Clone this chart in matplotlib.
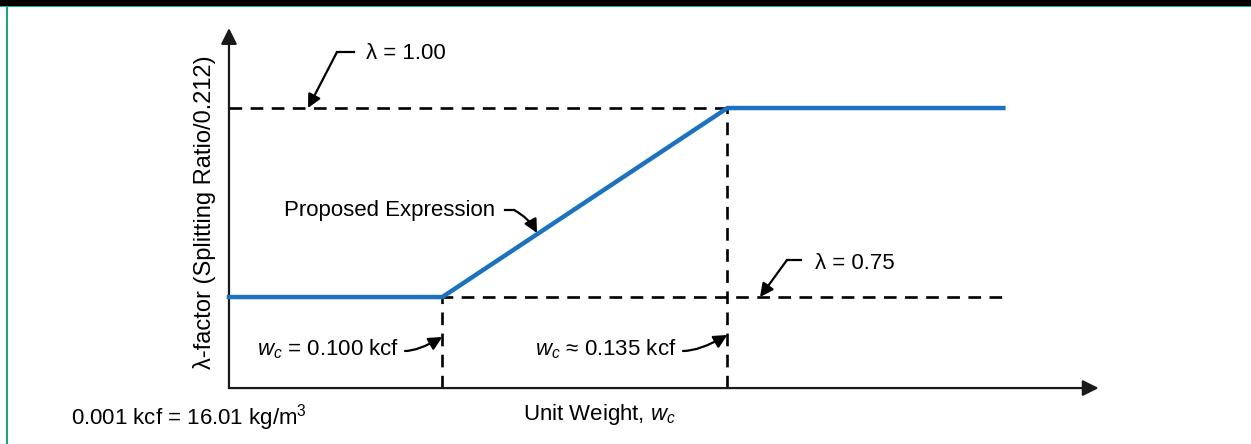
import matplotlib.pyplot as plt
from matplotlib.patches import Rectangle

plt.rcParams['font.family'] = ['Liberation Sans', 'DejaVu Sans']
plt.rcParams['mathtext.fontset'] = 'custom'
plt.rcParams['mathtext.rm'] = 'Liberation Sans'
plt.rcParams['mathtext.it'] = 'Liberation Sans:italic'

# unit weight breakpoints (kcf) and lambda values
wc_points = [0.100, 0.135]
lam_levels = [0.75, 1.00]
wc_axis = [0.0738, 0.1689, 0.1806]   # axis origin, end of curves, x-arrow tip
lam_axis = [0.6296, 1.1058]          # axis origin, y-arrow tip

BLUE = '#1b72c0'
DASH = (0, (4.8, 3.2))

fig = plt.figure(figsize=(12.51, 4.44), dpi=100)
ax = fig.add_axes([0, 0, 1, 1])
ax.set_xlim(0.04568, 0.19931)
ax.set_ylim(0.5556, 1.1429)
ax.axis('off')

x0, x_end, x_tip = wc_axis
y0, y_tip = lam_axis
w1, w2 = wc_points
lo, hi = lam_levels

# frame strips
fig.add_artist(Rectangle((0, 1 - 6 / 444), 1, 6 / 444, transform=fig.transFigure,
                         facecolor='black', edgecolor='none', zorder=10))
fig.add_artist(Rectangle((0, 1 - 7.5 / 444), 1, 1.5 / 444, transform=fig.transFigure,
                         facecolor='#19b08a', edgecolor='none', zorder=10))
fig.add_artist(Rectangle((6 / 1251, 0), 2 / 1251, 1 - 7 / 444, transform=fig.transFigure,
                         facecolor='#19a77c', edgecolor='none', zorder=10))

# axes with arrow heads
arrow = dict(arrowstyle='-|>', color='#1a1a1a', lw=1.6, mutation_scale=24,
             shrinkA=0, shrinkB=0)
ax.annotate('', xy=(x_tip, y0), xytext=(x0, y0), arrowprops=arrow)
ax.annotate('', xy=(x0, y_tip), xytext=(x0, y0), arrowprops=arrow)

# dashed reference lines
ax.plot([x0, x_end], [hi, hi], color='black', lw=1.9, ls=DASH)
ax.plot([x0, x_end], [lo, lo], color='black', lw=1.9, ls=DASH)
ax.plot([w1, w1], [y0, lo], color='black', lw=1.9, ls=DASH)
ax.plot([w2, w2], [y0, hi], color='black', lw=1.9, ls=DASH)

# proposed lambda expression
ax.plot([x0, w1, w2, x_end], [lo, lo, hi, hi], color=BLUE, lw=3.2,
        solid_joinstyle='miter', zorder=3)

fs = 16
lead = dict(arrowstyle='-|>', color='black', lw=1.6, mutation_scale=20,
            shrinkA=0, shrinkB=0)


def px(x, y):
    # pixel position -> data coordinates
    (xa, xb), (ya, yb) = ax.get_xlim(), ax.get_ylim()
    return xa + x / 1251 * (xb - xa), yb - y / 444 * (yb - ya)


# lambda = 1.00 label
ax.text(*px(366, 53), 'λ = 1.00', fontsize=fs, va='center', ha='left')
ax.plot(*zip(px(337, 52), px(354, 52)), color='black', lw=1.6)
ax.annotate('', xy=(px(308, 0)[0], hi), xytext=px(337, 52), arrowprops=lead)

# lambda = 0.75 label
ax.text(*px(815, 263), 'λ = 0.75', fontsize=fs, va='center', ha='left')
ax.plot(*zip(px(787, 260), px(801, 260)), color='black', lw=1.6)
ax.annotate('', xy=(px(760, 0)[0], lo), xytext=px(787, 260), arrowprops=lead)

# proposed expression label
ax.text(*px(284, 210), 'Proposed Expression', fontsize=fs, va='center', ha='left')
ax.plot(*zip(px(505, 210), px(514, 210)), color='black', lw=1.6)
ax.annotate('', xy=px(537, 233), xytext=px(514, 210),
            arrowprops=dict(lead, connectionstyle='arc3,rad=-0.15'))

# unit weight markers
ax.text(*px(257, 349), r'$w_c$ = 0.100 kcf', fontsize=fs, va='center', ha='left')
ax.annotate('', xy=(w1, px(0, 337)[1]), xytext=px(405, 351),
            arrowprops=dict(lead, connectionstyle='angle3,angleA=0,angleB=30'))
ax.text(*px(535, 349), r'$w_c$ ≈ 0.135 kcf', fontsize=fs, va='center', ha='left')
ax.annotate('', xy=(w2, px(0, 335)[1]), xytext=px(683, 351),
            arrowprops=dict(lead, connectionstyle='angle3,angleA=0,angleB=30'))

# axis titles and footnote
ax.text(*px(600, 414), r'Unit Weight, $w_c$', fontsize=fs, va='center', ha='center')
ax.text(*px(205, 212), 'λ-factor (Splitting Ratio/0.212)', fontsize=17,
        va='center', ha='center', rotation=90)
ax.text(*px(71, 418), r'0.001 kcf = 16.01 kg/m$^3$', fontsize=fs, va='center', ha='left')

fig.savefig('out.png', dpi=100)
